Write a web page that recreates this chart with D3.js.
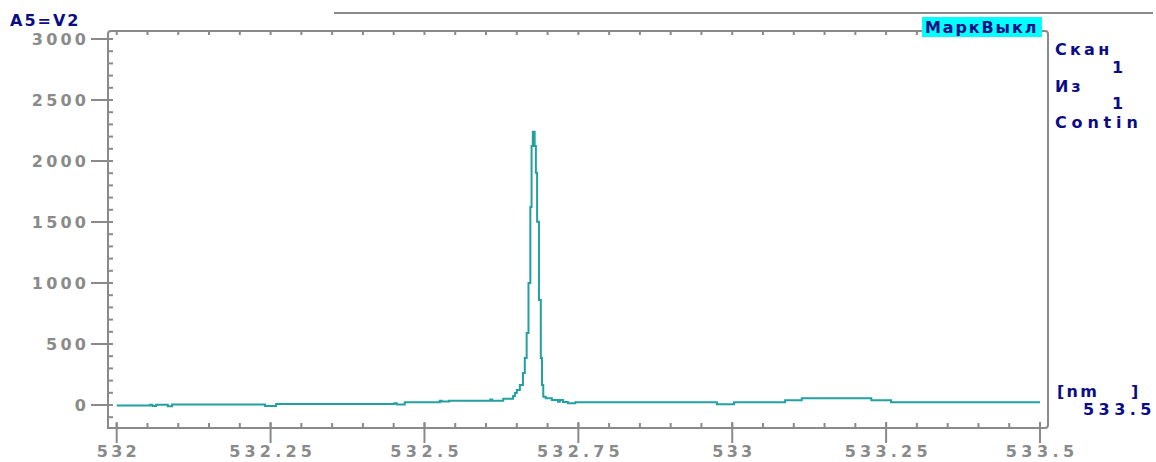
<!DOCTYPE html>
<html>
<head>
<meta charset="utf-8">
<script src="https://cdn.jsdelivr.net/npm/d3@7"></script>
<style>
  body { margin: 0; background: white; }
  text { font-family: 'DejaVu Sans', sans-serif; font-weight: bold; font-size: 16px; }
</style>
</head>
<body>
<svg id="chart" width="1156" height="462"></svg>
<script>
// spectrum (step starts)
const wavelengths = [
  532.000, 532.054, 532.058, 532.064, 532.083, 532.090, 532.241, 532.259,
  532.451, 532.455, 532.468, 532.525, 532.528, 532.540, 532.607, 532.610,
  532.628, 532.644, 532.647, 532.650, 532.655, 532.660, 532.663, 532.666,
  532.669, 532.672, 532.674, 532.676, 532.679, 532.681, 532.683, 532.686,
  532.689, 532.691, 532.693, 532.697, 532.707, 532.717, 532.720, 532.725,
  532.733, 532.745, 532.975, 533.003, 533.086, 533.113, 533.226, 533.258,
  533.500
];
const intensities = [
  -5, 2, -8, 2, -10, 5, -8, 8,
  14, 5, 22, 35, 28, 35, 45, 35,
  52, 74, 98, 123, 164, 262, 385, 590,
  1000, 1623, 2123, 2240, 2123, 1904, 1502, 861,
  385, 164, 68, 55, 41, 27, 41, 25,
  14, 22, 6, 22, 38, 55, 38, 22,
  22
];

const xMajor = [532, 532.25, 532.5, 532.75, 533, 533.25, 533.5];
const xMajorLabels = ['532', '532.25', '532.5', '532.75', '533', '533.25', '533.5'];
const yMajor = [0, 500, 1000, 1500, 2000, 2500, 3000];
const sideTexts = [
  { t: 'Скан', x: 1055, y: 55 },
  { t: '1', x: 1112, y: 73 },
  { t: 'Из', x: 1055, y: 92 },
  { t: '1', x: 1112, y: 109 },
  { t: 'Contin', x: 1055, y: 128 },
  { t: '[nm', x: 1057, y: 397 },
  { t: ']', x: 1131, y: 397 },
  { t: '533.5', x: 1083, y: 415 }
];

const GREY = '#8a8a8a';
const BLUE = '#0c0c84';
const TEAL = '#23a0a0';
const PITCH = 14.3;

// fixed-pitch look: each char takes PITCH px, minus the trailing gap
const span = s => String(s).length * PITCH - 3;

const svg = d3.select('#chart');

const x = d3.scaleLinear().domain([532, 533.5]).range([116.7, 1040]);
const y = d3.scaleLinear().domain([0, 3000]).range([405, 39]);

const frameL = 108, frameR = 1048, frameT = 31, frameB = 428, boxL = 922, boxR = 1042;

// frame
svg.append('path')
  .attr('d', `M${boxL},${frameT} H${frameL + 3} Q${frameL},${frameT} ${frameL},${frameT + 3} V${frameB} H${frameR - 3} Q${frameR},${frameB} ${frameR},${frameB - 3} V${frameT + 3} Q${frameR},${frameT} ${frameR - 3},${frameT} H${boxR}`)
  .attr('fill', 'none').attr('stroke', GREY).attr('stroke-width', 2);

// top separator line
svg.append('line')
  .attr('x1', 334).attr('x2', 1153).attr('y1', 13).attr('y2', 13)
  .attr('stroke', GREY).attr('stroke-width', 2);

// minor x ticks every 0.05
const xMinor = d3.range(0, 31).map(i => 532 + i * 0.05);
svg.append('g').selectAll('line').data(xMinor).join('line')
  .attr('x1', d => x(d)).attr('x2', d => x(d))
  .attr('y1', frameB - 5).attr('y2', frameB)
  .attr('stroke', GREY).attr('stroke-width', 2);
svg.append('g').selectAll('line').data(xMinor.filter(d => x(d) < boxL - 2)).join('line')
  .attr('x1', d => x(d)).attr('x2', d => x(d))
  .attr('y1', frameT).attr('y2', frameT + 4)
  .attr('stroke', GREY).attr('stroke-width', 2);

// major x ticks + labels
svg.append('g').selectAll('line').data(xMajor).join('line')
  .attr('x1', d => x(d)).attr('x2', d => x(d))
  .attr('y1', frameB - 6).attr('y2', 443)
  .attr('stroke', GREY).attr('stroke-width', 2);
svg.append('g').selectAll('text').data(xMajor).join('text')
  .attr('x', d => x(d)).attr('y', 457)
  .attr('text-anchor', 'middle').attr('fill', GREY)
  .attr('textLength', (d, i) => span(xMajorLabels[i])).attr('lengthAdjust', 'spacing')
  .text((d, i) => xMajorLabels[i]);

// minor y ticks every 100
const yMinor = d3.range(-100, 3001, 100);
svg.append('g').selectAll('line').data(yMinor).join('line')
  .attr('x1', frameL).attr('x2', frameL + 5)
  .attr('y1', d => y(d)).attr('y2', d => y(d))
  .attr('stroke', GREY).attr('stroke-width', 2);

// major y ticks + labels
svg.append('g').selectAll('line').data(yMajor).join('line')
  .attr('x1', 91).attr('x2', 112)
  .attr('y1', d => y(d)).attr('y2', d => y(d))
  .attr('stroke', GREY).attr('stroke-width', 2);
svg.append('g').selectAll('text').data(yMajor).join('text')
  .attr('x', 86).attr('y', d => y(d) + 6)
  .attr('text-anchor', 'end').attr('fill', GREY)
  .attr('textLength', d => span(d)).attr('lengthAdjust', 'spacing')
  .text(d => d);

// spectrum trace
const line = d3.line()
  .x(d => x(d[0]))
  .y(d => y(d[1]))
  .curve(d3.curveStepAfter);
svg.append('path')
  .datum(wavelengths.map((w, i) => [w, intensities[i]]))
  .attr('d', line)
  .attr('fill', 'none').attr('stroke', TEAL).attr('stroke-width', 2);

// header texts
svg.append('text').attr('x', 10).attr('y', 26).attr('fill', BLUE)
  .attr('textLength', span('A5=V2')).attr('lengthAdjust', 'spacing')
  .text('A5=V2');
svg.append('rect')
  .attr('x', boxL).attr('y', 17).attr('width', boxR - boxL).attr('height', 20)
  .attr('fill', '#00ffff');
svg.append('text').attr('x', 925).attr('y', 33).attr('fill', BLUE)
  .attr('textLength', span('МаркВыкл')).attr('lengthAdjust', 'spacing')
  .text('МаркВыкл');

svg.append('g').selectAll('text').data(sideTexts).join('text')
  .attr('x', d => d.x).attr('y', d => d.y)
  .attr('fill', BLUE)
  .attr('textLength', d => d.t.length > 1 ? span(d.t) : null).attr('lengthAdjust', 'spacing')
  .text(d => d.t);
</script>
</body>
</html>
